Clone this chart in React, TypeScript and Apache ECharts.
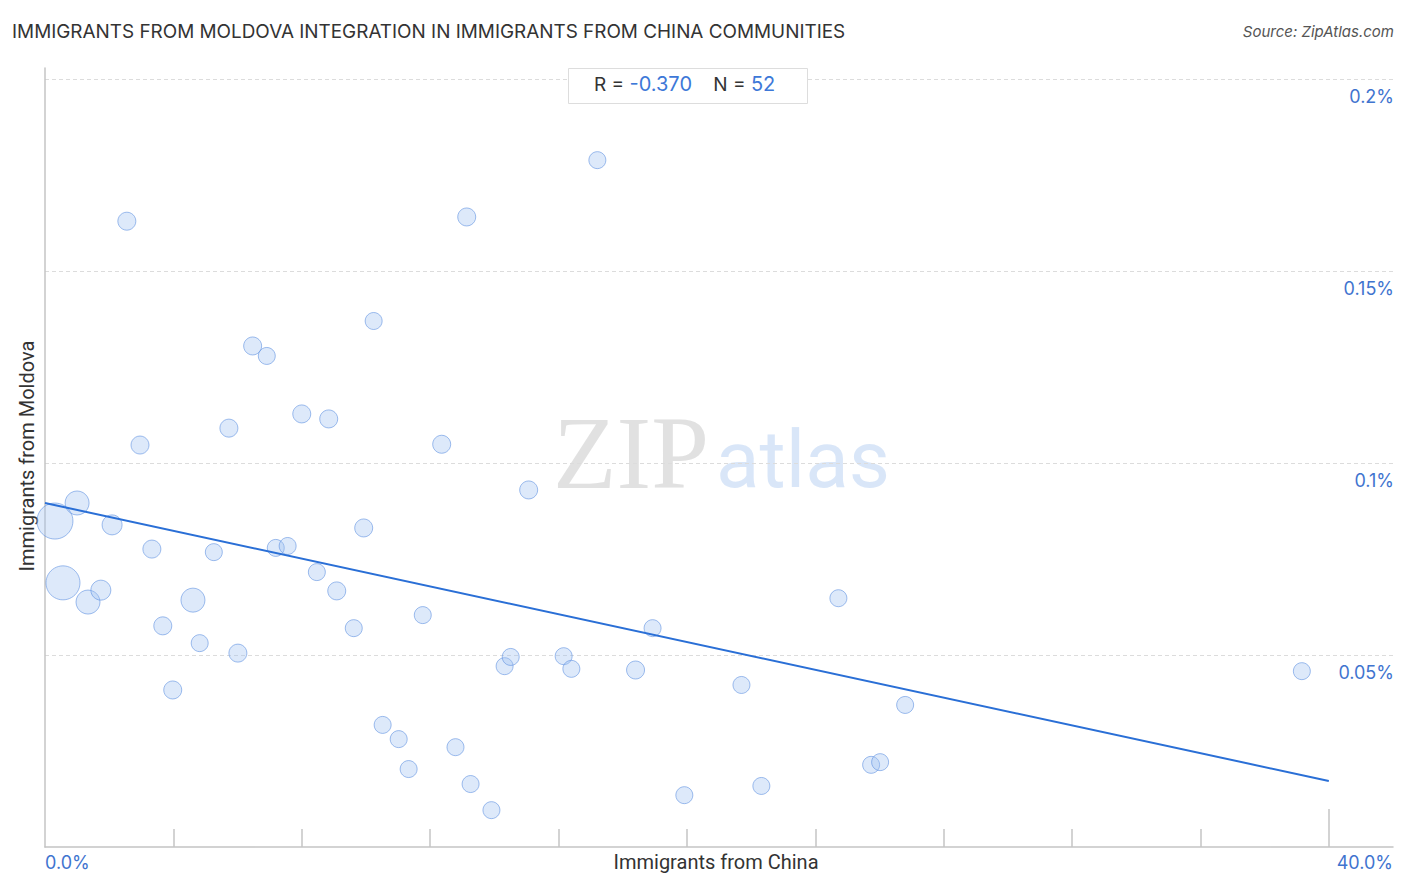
import React, { useEffect, useRef } from "react";
import * as echarts from "echarts";

const chinaPct = [
  0.31, 0.56, 1.0, 1.34, 1.74, 2.09, 2.55, 2.96, 3.33, 3.67, 3.98, 4.61, 4.82, 5.26, 5.73, 6.01, 6.47,
  6.91, 7.19, 7.56, 8.0, 8.47, 8.84, 9.09, 9.62, 9.93, 10.24, 10.52, 11.02, 11.33, 11.77, 12.36, 12.79,
  13.14, 13.26, 13.91, 14.32, 14.51, 15.07, 16.16, 16.4, 17.21, 18.4, 18.93, 19.92, 21.7, 22.32, 24.72,
  25.74, 26.02, 26.8, 39.16,
];
const moldovaPct = [
  0.0849, 0.0688, 0.0896, 0.0638, 0.0669, 0.0839, 0.163, 0.1047, 0.0776, 0.0576, 0.0409, 0.0643, 0.0531,
  0.0768, 0.1091, 0.0505, 0.1305, 0.1279, 0.0779, 0.0784, 0.1128, 0.0716, 0.1115, 0.0667, 0.057, 0.0831,
  0.137, 0.0318, 0.0281, 0.0203, 0.0604, 0.1049, 0.026, 0.1641, 0.0164, 0.0096, 0.0471, 0.0495, 0.093,
  0.0497, 0.0464, 0.1789, 0.0461, 0.057, 0.0135, 0.0422, 0.0159, 0.0648, 0.0214, 0.0221, 0.037, 0.0458,
];
const bubbleSize = [
  36, 34, 24, 24, 20, 20, 18, 18, 18, 18, 18, 24, 17, 17, 18, 18, 18, 17, 17, 17, 18, 17, 18, 18, 17, 18,
  17, 17, 17, 17, 17, 18, 17, 18, 17, 17, 17, 17, 18, 17, 17, 17, 18, 17, 17, 17, 17, 17, 17, 17, 17, 17,
];
const trendX = [0, 40];
const trendY = [0.0896, 0.0172];
const xTickValues = [4, 8, 12, 16, 20, 24, 28, 32, 36];
const yTickLabels: Record<string, string> = { "0.05": "0.05%", "0.1": "0.1%", "0.15": "0.15%", "0.2": "0.2%" };
const rValue = "-0.370";
const nValue = "52";

export default function App() {
  const ref = useRef<HTMLDivElement>(null);
  useEffect(() => {
    if (!ref.current) return;
    const chart = echarts.init(ref.current, null, { renderer: "svg" });
    const points = chinaPct.map((x, i) => [x, moldovaPct[i], bubbleSize[i]]);
    const font = "Roboto, 'Noto Sans', sans-serif";
    const numFont = "Inter, Roboto, sans-serif";
    chart.setOption({
      animation: false,
      backgroundColor: "#ffffff",
      grid: { left: 45, right: 13, top: 68, bottom: 45, containLabel: false },
      xAxis: [
        {
          type: "value",
          min: 0,
          max: 42,
          interval: 4,
          axisLine: { show: true, lineStyle: { color: "#c4c4c4", width: 1.5 } },
          axisTick: { show: true, inside: true, length: 18, customValues: xTickValues, lineStyle: { color: "#c4c4c4", width: 1.5 } },
          axisLabel: { show: false },
          splitLine: { show: false },
        },
        {
          type: "value",
          position: "bottom",
          min: 0,
          max: 42,
          axisLine: { show: false },
          axisTick: { show: true, inside: true, length: 38, customValues: [40], lineStyle: { color: "#c4c4c4", width: 1.5 } },
          axisLabel: { show: false },
          splitLine: { show: false },
        },
      ],
      yAxis: [
        {
          type: "value",
          min: 0,
          max: 0.2029,
          interval: 0.05,
          axisLine: { show: true, lineStyle: { color: "#c4c4c4", width: 1.5 } },
          axisTick: { show: false },
          axisLabel: { show: false },
          splitLine: { show: true, showMinLine: false, showMaxLine: false, lineStyle: { color: "#dcdcdc", type: [4, 3], width: 1 } },
        },
        {
          type: "value",
          position: "right",
          min: 0,
          max: 0.2029,
          interval: 0.05,
          axisLine: { show: false },
          axisTick: { show: false },
          splitLine: { show: false },
          axisLabel: {
            show: true,
            inside: true,
            margin: -1,
            showMaxLabel: false,
            verticalAlign: "top",
            padding: [8, 0, 0, 0],
            color: "#3f74cf",
            fontSize: 18,
            fontFamily: numFont,
            formatter: (v: number) => yTickLabels[String(Math.round(v * 100) / 100)] || "",
          },
        },
      ],
      graphic: [
        {
          type: "text",
          left: 12,
          top: 22,
          style: { text: "IMMIGRANTS FROM MOLDOVA INTEGRATION IN IMMIGRANTS FROM CHINA COMMUNITIES", fontSize: 18.9, fill: "#333333", fontFamily: numFont },
        },
        {
          type: "text",
          right: 12,
          top: 24,
          style: { text: "Source: ZipAtlas.com", fontSize: 15, fill: "#555555", fontStyle: "italic", fontFamily: numFont },
        },
        {
          type: "text",
          left: 553,
          top: 400,
          z: 0,
          style: { text: "ZIP", fontSize: 104, fill: "rgba(200,200,200,0.55)", fontFamily: "'Liberation Serif', 'DejaVu Serif', serif" },
        },
        {
          type: "text",
          left: 716,
          top: 420,
          z: 0,
          style: { text: "atlas", fontSize: 80, fill: "rgba(170,200,240,0.45)", fontFamily: font },
        },
        {
          type: "rect",
          left: 568,
          top: 68,
          z: 10,
          shape: { width: 239, height: 35 },
          style: { fill: "#ffffff", stroke: "#dddddd", lineWidth: 1 },
        },
        {
          type: "text",
          left: 594,
          top: 74,
          z: 11,
          style: {
            text: `{k|R = }{v|${rValue}}{k|    N = }{v|${nValue}}`,
            rich: {
              k: { fontSize: 19, fill: "#333333", fontFamily: numFont },
              v: { fontSize: 20, fill: "#3d78d8", fontFamily: numFont },
            },
          },
        },
        {
          type: "text",
          left: 45,
          top: 853,
          style: { text: "0.0%", fontSize: 18, fill: "#3f74cf", fontFamily: numFont },
        },
        {
          type: "text",
          right: 13,
          top: 853,
          style: { text: "40.0%", fontSize: 18, fill: "#3f74cf", fontFamily: numFont },
        },
        {
          type: "text",
          x: 716,
          y: 852,
          style: { text: "Immigrants from China", fontSize: 20, fill: "#333333", fontFamily: font, align: "center", verticalAlign: "top" },
        },
        {
          type: "text",
          x: 17,
          y: 456,
          rotation: Math.PI / 2,
          style: { text: "Immigrants from Moldova", fontSize: 20, fill: "#333333", fontFamily: font, align: "center", verticalAlign: "top" },
        },
      ],
      series: [
        {
          type: "scatter",
          xAxisIndex: 0,
          yAxisIndex: 0,
          data: points,
          symbolSize: (d: number[]) => d[2],
          itemStyle: { color: "rgba(160,195,242,0.45)", borderColor: "rgba(95,145,225,0.75)", borderWidth: 1 },
          z: 3,
        },
        {
          type: "line",
          xAxisIndex: 0,
          yAxisIndex: 0,
          data: trendX.map((x, i) => [x, trendY[i]]),
          symbol: "none",
          lineStyle: { color: "#2a6fd6", width: 2 },
          z: 4,
        },
      ],
    });
    return () => chart.dispose();
  }, []);
  return <div ref={ref} style={{ position: "absolute", left: 0, top: 0, width: 1406, height: 892 }} />;
}
